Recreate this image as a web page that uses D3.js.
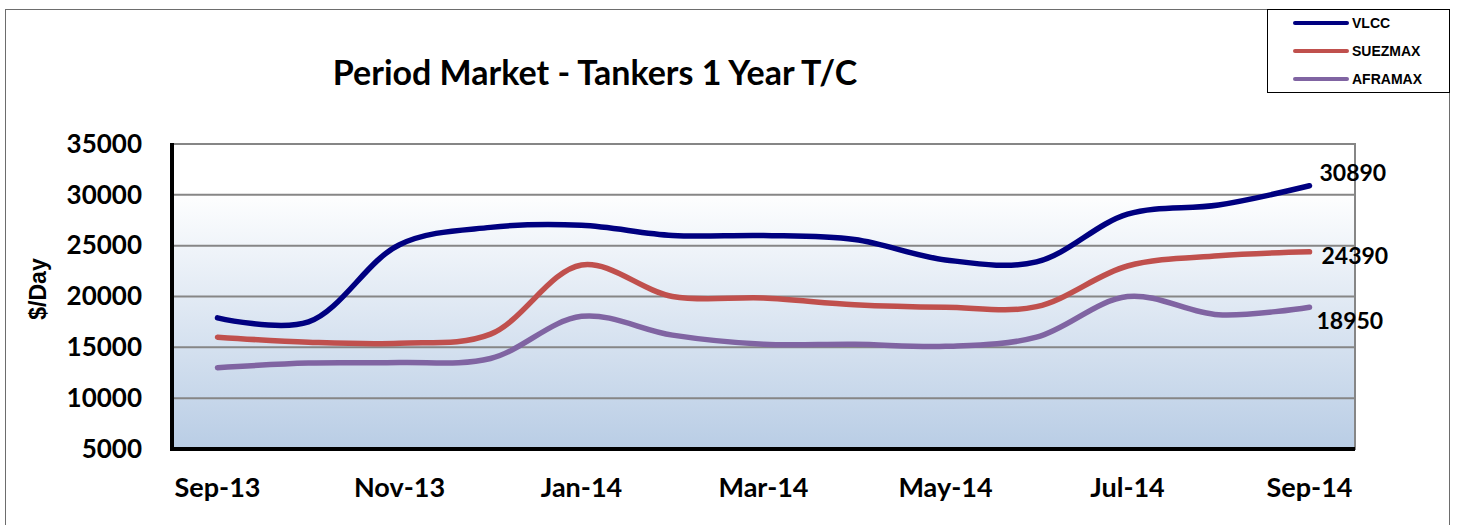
<!DOCTYPE html>
<html>
<head>
<meta charset="utf-8">
<script src="https://cdn.jsdelivr.net/npm/d3@7"></script>
<style>
  body { margin: 0; background: #fff; }
  svg { display: block; }
</style>
</head>
<body>
<svg width="1459" height="525"></svg>
<script>
// chart data
const months = ["Sep-13","Oct-13","Nov-13","Dec-13","Jan-14","Feb-14","Mar-14","Apr-14","May-14","Jun-14","Jul-14","Aug-14","Sep-14"];
const vlcc     = [17900, 17500, 25100, 26800, 27000, 26000, 26000, 25600, 23600, 23400, 28100, 29000, 30890];
const suezmax  = [16000, 15500, 15400, 16300, 23100, 20000, 19850, 19200, 18950, 19000, 23000, 24000, 24390];
const aframax  = [13000, 13450, 13500, 13900, 18050, 16200, 15300, 15300, 15100, 16000, 20000, 18200, 18950];
const seriesNames = ["VLCC", "SUEZMAX", "AFRAMAX"];
const seriesColors = ["#000080", "#C0504D", "#8064A2"];
const yTicks = [5000, 10000, 15000, 20000, 25000, 30000, 35000];
const xLabels = ["Sep-13","Nov-13","Jan-14","Mar-14","May-14","Jul-14","Sep-14"];

const svg = d3.select("svg");
const plot = {left: 172, right: 1355, top: 144, bottom: 449};
const FONT = "Lato, 'Open Sans', sans-serif";

// outer chart frame
svg.append("rect")
    .attr("x", 5.5).attr("y", 9.5)
    .attr("width", 1444).attr("height", 530)
    .attr("fill", "none").attr("stroke", "#6d6d6d").attr("stroke-width", 1);

const defs = svg.append("defs");
const grad = defs.append("linearGradient")
    .attr("id", "bg").attr("x1", 0).attr("y1", 0).attr("x2", 0).attr("y2", 1);
grad.append("stop").attr("offset", "0%").attr("stop-color", "#ffffff");
grad.append("stop").attr("offset", "15%").attr("stop-color", "#ffffff");
grad.append("stop").attr("offset", "100%").attr("stop-color", "#b9cde5");

const x = d3.scaleBand().domain(months).range([plot.left, plot.right]);
const xc = d => x(d) + x.bandwidth() / 2;
const y = d3.scaleLinear().domain([5000, 35000]).range([plot.bottom, plot.top]);

svg.append("rect")
    .attr("x", plot.left).attr("y", plot.top)
    .attr("width", plot.right - plot.left).attr("height", plot.bottom - plot.top)
    .attr("fill", "url(#bg)")
    .attr("stroke", "#868686").attr("stroke-width", 2);

// gridlines
svg.append("g")
    .selectAll("line")
    .data(yTicks.slice(1))
    .enter().append("line")
    .attr("x1", plot.left).attr("x2", plot.right)
    .attr("y1", d => y(d)).attr("y2", d => y(d))
    .attr("stroke", "#868686").attr("stroke-width", 2);

// axis lines (thick black)
svg.append("line")
    .attr("x1", plot.left).attr("x2", plot.left)
    .attr("y1", plot.top - 1).attr("y2", plot.bottom + 2)
    .attr("stroke", "#000").attr("stroke-width", 4);
svg.append("line")
    .attr("x1", plot.left - 2).attr("x2", plot.right)
    .attr("y1", plot.bottom).attr("y2", plot.bottom)
    .attr("stroke", "#000").attr("stroke-width", 4);

// y tick labels
const yAxis = d3.axisLeft(y).tickValues(yTicks).tickSize(0).tickPadding(30).tickFormat(d3.format("d"));
const gy = svg.append("g").attr("transform", `translate(${plot.left},0)`).call(yAxis);
gy.select(".domain").remove();
gy.selectAll("text")
    .attr("font-family", FONT)
    .attr("font-weight", "bold").attr("font-size", 26).attr("fill", "#000");

// x tick labels
const xAxis = d3.axisBottom(x).tickValues(xLabels).tickSize(0);
const gx = svg.append("g").attr("transform", `translate(0,${plot.bottom})`).call(xAxis);
gx.select(".domain").remove();
gx.selectAll("text")
    .attr("y", 48).attr("dy", 0)
    .attr("font-family", FONT)
    .attr("font-weight", "bold").attr("font-size", 27).attr("fill", "#000");

// y axis title
svg.append("text")
    .attr("transform", "translate(46,289) rotate(-90)")
    .attr("text-anchor", "middle")
    .attr("font-family", "'Liberation Sans', Arial, sans-serif")
    .attr("font-weight", "bold").attr("font-size", 23)
    .text("$/Day");

// title
svg.append("text")
    .attr("x", 595).attr("y", 85)
    .attr("text-anchor", "middle")
    .attr("font-family", FONT)
    .attr("font-weight", "bold").attr("font-size", 34)
    .text("Period Market - Tankers 1 Year T/C");

// lines
const allSeries = [vlcc, suezmax, aframax];
const line = d3.line()
    .x((d, i) => xc(months[i]))
    .y(d => y(d))
    .curve(d3.curveCatmullRom.alpha(0.5));

svg.append("g")
    .selectAll("path")
    .data(allSeries)
    .enter().append("path")
    .attr("d", line)
    .attr("fill", "none")
    .attr("stroke", (d, i) => seriesColors[i])
    .attr("stroke-width", 5.5)
    .attr("stroke-linecap", "round");

// end value labels
const labelDy = [-5, 12, 22];
const labelDx = [10, 12, 7];
svg.append("g")
    .selectAll("text")
    .data(allSeries)
    .enter().append("text")
    .attr("x", (d, i) => xc(months[months.length - 1]) + labelDx[i])
    .attr("y", (d, i) => y(d[d.length - 1]) + labelDy[i])
    .attr("font-family", FONT)
    .attr("font-weight", "bold").attr("font-size", 23)
    .text(d => d[d.length - 1]);

// legend
const legend = svg.append("g");
legend.append("rect")
    .attr("x", 1267.5).attr("y", 9.5)
    .attr("width", 182).attr("height", 83)
    .attr("fill", "#fff").attr("stroke", "#000").attr("stroke-width", 1);
seriesNames.forEach(function(name, i) {
    var ly = 23 + i * 28;
    legend.append("line")
        .attr("x1", 1295).attr("x2", 1347)
        .attr("y1", ly).attr("y2", ly)
        .attr("stroke", seriesColors[i]).attr("stroke-width", 4)
        .attr("stroke-linecap", "round");
    legend.append("text")
        .attr("x", 1352).attr("y", ly + 5)
        .attr("font-family", "'Liberation Sans', Arial, sans-serif")
        .attr("font-weight", "bold").attr("font-size", 14)
        .text(name);
});
</script>
</body>
</html>
